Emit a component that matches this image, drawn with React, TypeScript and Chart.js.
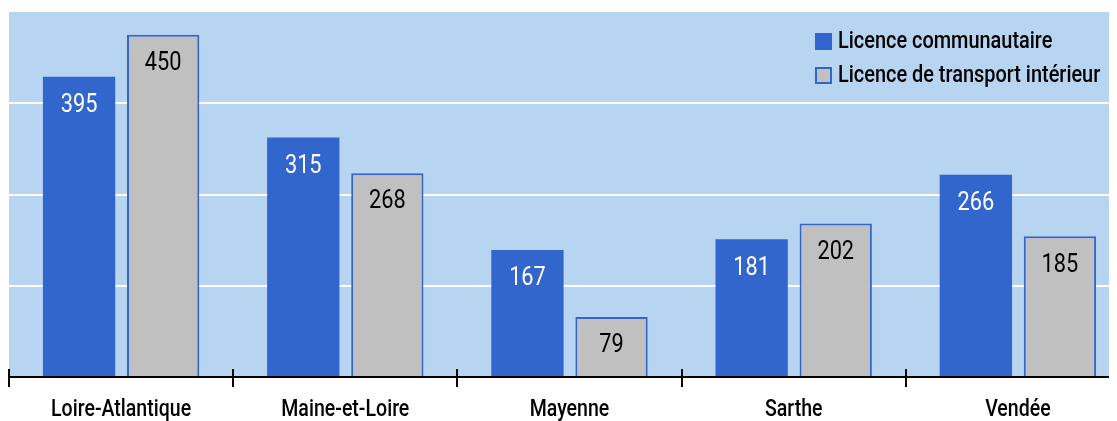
import React, { useEffect, useRef } from "react";
import { Chart, registerables } from "chart.js";

Chart.register(...registerables);

const categories = ["Loire-Atlantique", "Maine-et-Loire", "Mayenne", "Sarthe", "Vendée"];
const communautaire = [395, 315, 167, 181, 266];
const interieur = [450, 268, 79, 202, 185];
const seriesNames = ["Licence communautaire", "Licence de transport intérieur"];
const yMax = 480;
const yStep = 120;

const FONT = "Roboto, sans-serif";
const BLUE = "#3366cc";
const GREY = "#c0c0c0";
const BG = "#b7d4f1";

function condensedText(
  ctx: CanvasRenderingContext2D,
  text: string,
  x: number,
  y: number,
  align: "left" | "center",
  sx: number
) {
  ctx.save();
  ctx.translate(x, y);
  ctx.scale(sx, 1);
  ctx.textAlign = align;
  ctx.fillText(text, 0, 0);
  ctx.restore();
}

const bgPlugin = {
  id: "bgPlugin",
  beforeDraw(chart: any) {
    const { ctx, chartArea } = chart;
    ctx.save();
    ctx.fillStyle = BG;
    ctx.fillRect(chartArea.left, chartArea.top, chartArea.right - chartArea.left, chartArea.bottom - chartArea.top);
    ctx.restore();
  },
};

const labelPlugin = {
  id: "labelPlugin",
  afterDatasetsDraw(chart: any) {
    const { ctx } = chart;
    ctx.save();
    ctx.font = `25px ${FONT}`;
    ctx.textBaseline = "middle";
    chart.data.datasets.forEach((ds: any, di: number) => {
      const meta = chart.getDatasetMeta(di);
      meta.data.forEach((bar: any, i: number) => {
        ctx.fillStyle = di === 0 ? "#ffffff" : "#000000";
        condensedText(ctx, String(ds.data[i]), bar.x, bar.y + 29, "center", 0.87);
      });
    });
    ctx.restore();
  },
  afterDraw(chart: any) {
    const { ctx, chartArea } = chart;
    const x = chart.scales.x;
    ctx.save();
    // tick marks crossing the axis
    ctx.strokeStyle = "#000";
    ctx.lineWidth = 2;
    const half = (x.getPixelForValue(1) - x.getPixelForValue(0)) / 2;
    for (let i = 0; i <= categories.length; i++) {
      const px = Math.round(x.getPixelForValue(i) - half);
      ctx.beginPath();
      ctx.moveTo(px, chartArea.bottom - 8);
      ctx.lineTo(px, chartArea.bottom);
      ctx.stroke();
    }
    // category labels
    ctx.fillStyle = "#000";
    ctx.font = `500 23px ${FONT}`;
    ctx.textBaseline = "middle";
    categories.forEach((c, i) => {
      condensedText(ctx, c, x.getPixelForValue(i), chartArea.bottom + 33, "center", 0.85);
    });
    // legend
    const lx = chartArea.left + 806;
    const ly = chartArea.top + 21;
    ctx.font = `500 24px ${FONT}`;
    seriesNames.forEach((name, i) => {
      const y = ly + i * 34;
      if (i === 0) {
        ctx.fillStyle = BLUE;
        ctx.fillRect(lx, y, 17, 17);
      } else {
        ctx.fillStyle = GREY;
        ctx.fillRect(lx + 1, y + 1, 15, 15);
        ctx.strokeStyle = BLUE;
        ctx.lineWidth = 2;
        ctx.strokeRect(lx + 1, y + 1, 15, 15);
      }
      ctx.fillStyle = "#000";
      condensedText(ctx, name, lx + 23, y + 9, "left", 0.83);
    });
    ctx.restore();
  },
};

export default function App() {
  const ref = useRef<HTMLCanvasElement>(null);
  useEffect(() => {
    document.body.style.overflow = "hidden";
    const chart = new Chart(ref.current as HTMLCanvasElement, {
      type: "bar",
      data: {
        labels: categories,
        datasets: [
          {
            label: seriesNames[0],
            data: communautaire,
            backgroundColor: BLUE,
            borderColor: BLUE,
            borderWidth: 0,
          },
          {
            label: seriesNames[1],
            data: interieur,
            backgroundColor: GREY,
            borderColor: BLUE,
            borderWidth: 2,
          },
        ],
      },
      options: {
        animation: false,
        responsive: false,
        maintainAspectRatio: false,
        layout: { padding: { left: 1, top: 4, right: 0, bottom: 34 } },
        plugins: { legend: { display: false }, tooltip: { enabled: false } },
        datasets: { bar: { categoryPercentage: 0.75, barPercentage: 0.86 } },
        scales: {
          x: {
            grid: {
              display: true,
              drawOnChartArea: false,
              drawTicks: true,
              tickLength: 10,
              color: "#000",
              lineWidth: 2,
            },
            border: { display: true, color: "#000", width: 2 },
            ticks: { display: false },
          },
          y: {
            min: 0,
            max: yMax,
            ticks: { display: false, stepSize: yStep },
            border: { display: false },
            grid: {
              drawTicks: false,
              lineWidth: 2,
              color: (c: any) => (c.tick && (c.tick.value === 0 || c.tick.value === yMax) ? "rgba(0,0,0,0)" : "#ffffff"),
            },
          },
        },
      },
      plugins: [bgPlugin, labelPlugin],
    });
    return () => chart.destroy();
  }, []);
  return (
    <div style={{ width: 1122, height: 413 }}>
      <canvas ref={ref} width={1122} height={413} style={{ width: 1122, height: 413, display: "block" }} />
    </div>
  );
}
